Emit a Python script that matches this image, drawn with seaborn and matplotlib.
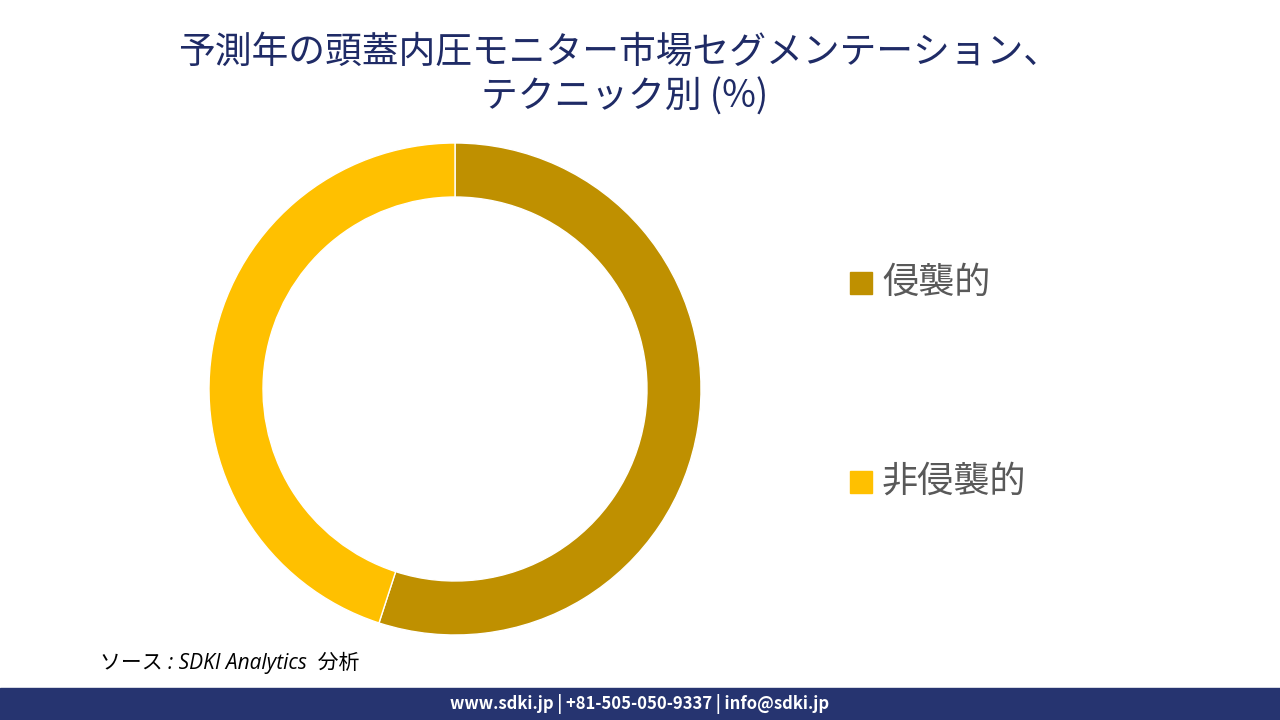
import matplotlib
matplotlib.use("Agg")
import matplotlib.pyplot as plt
import matplotlib.patches as mpatches
import seaborn as sns

categories = ["侵襲的", "非侵襲的"]
shares = [55.0, 45.0]
colors = ["#BF9000", "#FFC000"]
title_lines = ["予測年の頭蓋内圧モニター市場セグメンテーション、", "テクニック別 (%)"]
source_text = "ソース : SDKI Analytics  分析"
footer_text = "www.sdki.jp | +81-505-050-9337 | info@sdki.jp"

sns.set_theme(style="white")
plt.rcParams['font.family'] = ['Noto Sans CJK JP', 'DejaVu Sans']

W, H = 1280, 720
fig = plt.figure(figsize=(12.8, 7.2), dpi=100)
fig.patch.set_facecolor("white")

cx, cy, r = 455, 389, 246
ax = fig.add_axes([(cx - r) / W, (H - cy - r) / H, 2 * r / W, 2 * r / H])
ax.pie(shares, colors=colors, startangle=90, counterclock=False, radius=1,
       wedgeprops=dict(width=54 / 246, edgecolor="white", linewidth=1))
ax.set_xlim(-1, 1)
ax.set_ylim(-1, 1)
ax.set_aspect("equal")
ax.axis("off")

# title
fig.text(619 / W, 1 - 52 / H, title_lines[0], ha="center", va="center",
         fontsize=26.5, color="#1F2B66")
fig.text(625 / W, 1 - 97 / H, title_lines[1], ha="center", va="center",
         fontsize=26.5, color="#1F2B66")

# legend (manual)
leg_y = [283, 482]
for lab, col, y in zip(categories, colors, leg_y):
    fig.patches.append(mpatches.Rectangle(((850) / W, 1 - (y + 11) / H), 22 / W, 22 / H,
                                          transform=fig.transFigure, color=col))
    fig.text(882 / W, 1 - y / H, lab, ha="left", va="center", fontsize=26,
             color="#595959")

# source
fig.text(100 / W, 1 - 663 / H, source_text, ha="left", va="center", fontsize=15,
         style="italic", color="black", family=["Open Sans", "Noto Sans CJK JP"])

# footer bar
fig.patches.append(mpatches.Rectangle((0, 0), 1, 32 / H, transform=fig.transFigure,
                                      color="#263470"))
fig.text(640 / W, 16 / H, footer_text, ha="center", va="center", fontsize=12,
         fontweight="bold", color="white")

fig.savefig("out.png", dpi=100, facecolor="white")
